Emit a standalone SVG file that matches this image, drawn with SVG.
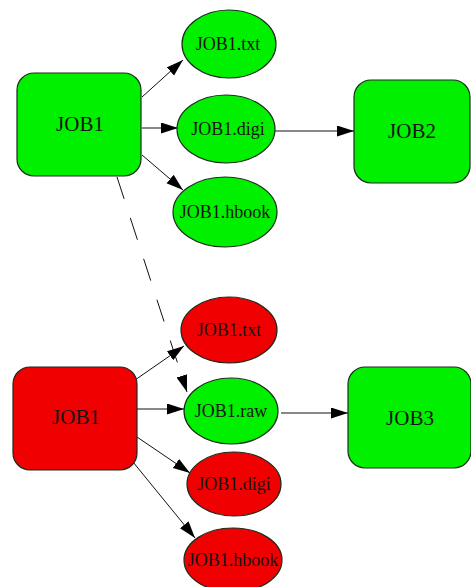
<svg xmlns="http://www.w3.org/2000/svg" width="471" height="587" viewBox="0 0 471 587">
<defs>
<style>
.job{stroke:#1c2a1c;stroke-width:1.2}
.g{fill:#00f000}
.r{fill:#f00000}
.lbl{font-family:"Liberation Serif","Times New Roman",serif;fill:#151515;text-anchor:middle}
.big{font-size:21px}
.sm{font-size:18px}
.edge{stroke:#111;stroke-width:1;fill:none;marker-end:url(#arr)}
.dash{stroke-dasharray:23 20}
</style>
<marker id="arr" markerUnits="userSpaceOnUse" markerWidth="18" markerHeight="12" refX="17" refY="5.5" orient="auto">
<path d="M0,0 L17,5.5 L0,11 z" fill="#000"/>
</marker>
</defs>
<rect width="471" height="587" fill="#fff"/>
<g id="connectors">
<line class="edge" x1="142" y1="97" x2="183" y2="60"/>
<line class="edge" x1="142" y1="128" x2="178" y2="128"/>
<line class="edge" x1="142" y1="155" x2="183" y2="190"/>
<line class="edge" x1="275" y1="131" x2="354" y2="131"/>
<line class="edge dash" x1="117" y1="177" x2="187" y2="392"/>
<line class="edge" x1="135" y1="380" x2="184" y2="346"/>
<line class="edge" x1="137" y1="409" x2="184" y2="409"/>
<line class="edge" x1="137" y1="437" x2="190" y2="473"/>
<line class="edge" x1="133" y1="462" x2="195" y2="538"/>
<line class="edge" x1="281" y1="413" x2="348" y2="413"/>
</g>
<g id="job1_top">
<rect class="job g" x="17" y="73" width="124" height="103" rx="17"/>
<text class="lbl big" x="80" y="131">JOB1</text>
</g>
<g id="job1_txt_top">
<ellipse class="job g" cx="229" cy="44" rx="47" ry="34"/>
<text class="lbl sm" x="228" y="50">JOB1.txt</text>
</g>
<g id="job1_digi_top">
<ellipse class="job g" cx="226" cy="129" rx="49" ry="34"/>
<text class="lbl sm" x="228" y="135">JOB1.digi</text>
</g>
<g id="job1_hbook_top">
<ellipse class="job g" cx="225" cy="212" rx="52" ry="35"/>
<text class="lbl sm" x="225" y="218">JOB1.hbook</text>
</g>
<g id="job2">
<rect class="job g" x="354" y="80" width="116" height="103" rx="17"/>
<text class="lbl big" x="412" y="138">JOB2</text>
</g>
<g id="job1_bottom">
<rect class="job r" x="13" y="367" width="124" height="103" rx="17"/>
<text class="lbl big" x="76" y="424">JOB1</text>
</g>
<g id="job1_txt_bottom">
<ellipse class="job r" cx="229" cy="330" rx="48" ry="33"/>
<text class="lbl sm" x="229" y="336">JOB1.txt</text>
</g>
<g id="job1_raw">
<ellipse class="job g" cx="231" cy="411" rx="47" ry="33"/>
<text class="lbl sm" x="231" y="417">JOB1.raw</text>
</g>
<g id="job1_digi_bottom">
<ellipse class="job r" cx="234" cy="484" rx="47" ry="32"/>
<text class="lbl sm" x="234" y="490">JOB1.digi</text>
</g>
<g id="job1_hbook_bottom">
<ellipse class="job r" cx="233" cy="560" rx="49" ry="32"/>
<text class="lbl sm" x="233" y="566">JOB1.hbook</text>
</g>
<g id="job3">
<rect class="job g" x="348" y="367" width="123" height="101" rx="17"/>
<text class="lbl big" x="410" y="425">JOB3</text>
</g>
</svg>
